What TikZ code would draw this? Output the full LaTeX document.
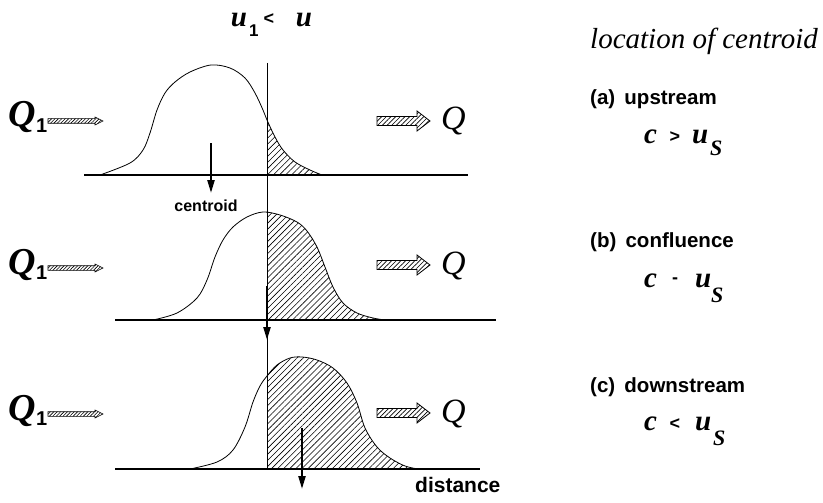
\documentclass[tikz,border=0pt]{standalone}
\usepackage{fontspec}
\setmainfont{Liberation Serif}
\setsansfont{Liberation Sans}
\usetikzlibrary{patterns.meta,arrows.meta}
\tikzset{
  axisline/.style={line width=1.1pt},
  curveline/.style={line width=0.8pt},
  hatchfill/.style={pattern={Lines[angle=45,distance=4.3pt,line width=0.6pt]}},
  cenarrow/.style={line width=2.2pt,-{Triangle[length=13pt,width=7pt]}},
  bigarrow/.pic={\draw[line width=0.8pt,pattern={Lines[angle=45,distance=3.3pt,line width=0.7pt]}]
     (0,-4.5) -- (40,-4.5) -- (40,-10) -- (53,0) -- (40,10) -- (40,4.5) -- (0,4.5) -- cycle;},
  smallarrow/.pic={\draw[line width=0.6pt,pattern={Lines[angle=45,distance=2.4pt,line width=0.6pt]}]
     (0,-2.3) -- (47,-2.3) -- (47,-4) -- (55,0) -- (47,4) -- (47,2.3) -- (0,2.3) -- cycle;},
  qone/.style={font=\fontsize{38}{38}\selectfont\bfseries\itshape,inner sep=0pt,anchor=base west},
  qsub/.style={font=\fontsize{20}{20}\selectfont\sffamily\bfseries,inner sep=0pt,anchor=base west},
  qout/.style={font=\fontsize{34}{34}\selectfont\itshape,inner sep=0pt,anchor=base west},
  mathlet/.style={font=\fontsize{29}{29}\selectfont\bfseries\itshape,inner sep=0pt,anchor=base west},
  mathsub/.style={font=\fontsize{22}{22}\selectfont\bfseries\itshape,inner sep=0pt,anchor=base west},
  relsym/.style={font=\fontsize{18}{18}\selectfont\sffamily\bfseries,inner sep=0pt},
  label/.style={font=\fontsize{20.5}{20.5}\selectfont\sffamily\bfseries,inner sep=0pt,anchor=base west},
  smalllabel/.style={font=\fontsize{16}{16}\selectfont\sffamily\bfseries,inner sep=0pt,anchor=base},
  headline/.style={font=\fontsize{29}{29}\selectfont\itshape,inner sep=0pt,anchor=base west},
}
\begin{document}
\begin{tikzpicture}[x=1pt,y=-1pt]
\useasboundingbox (0,0) rectangle (823,503);

% title
\node[mathlet,anchor=base] (tu1) at (239,27) {u};
\node[qsub,font=\fontsize{17}{17}\selectfont\sffamily\bfseries] (t1) at (249,37) {1};
\node[relsym] (tlt) at (269,19) {<};
\node[mathlet,anchor=base] (tu) at (304,27) {u};

% vertical line
\coordinate (vtop) at (267,63);
\coordinate (vbot) at (267,469);
\draw[curveline] (vtop) -- (vbot);

% ---------- panel 1 ----------
\begin{scope}
\clip (267,0) rectangle (823,503);
\fill[hatchfill] plot[smooth,tension=0.55] coordinates {(100,175) (130,163) (143,150) (150,133) (157,110) (165,93) (175,82) (190,72) (211,65) (230,68) (245,78) (255,93) (263,110) (267,120) (275,137) (283,150) (295,162) (310,170) (322,175)} -- cycle;
\end{scope}
\draw[curveline] plot[smooth,tension=0.55] coordinates {(100,175) (130,163) (143,150) (150,133) (157,110) (165,93) (175,82) (190,72) (211,65) (230,68) (245,78) (255,93) (263,110) (267,120) (275,137) (283,150) (295,162) (310,170) (322,175)};
\coordinate (b1l) at (84,175);
\coordinate (b1r) at (468,175);
\draw[axisline] (b1l) -- (b1r);
\coordinate (c1s) at (211,143);
\coordinate (c1e) at (211,193);
\draw[cenarrow] (c1s) -- (c1e);
\node[smalllabel] (cen) at (206,211) {centroid};

\node[qone] (qa) at (8,127) {Q};
\node[qsub] (qas) at (36,132) {1};
\pic at (48,121) {smallarrow};
\pic at (377,121) {bigarrow};
\node[qout] (qoa) at (441,130) {Q};

% ---------- panel 2 ----------
\begin{scope}
\clip (267,0) rectangle (823,503);
\fill[hatchfill] plot[smooth,tension=0.55] coordinates {(153,320) (177,313) (197,298) (207,280) (215,257) (223,240) (233,227) (247,217) (263,212) (280,215) (297,222) (307,231) (317,247) (325,267) (333,287) (343,303) (357,313) (373,318) (385,320)} -- cycle;
\end{scope}
\draw[curveline] plot[smooth,tension=0.55] coordinates {(153,320) (177,313) (197,298) (207,280) (215,257) (223,240) (233,227) (247,217) (263,212) (280,215) (297,222) (307,231) (317,247) (325,267) (333,287) (343,303) (357,313) (373,318) (385,320)};
\coordinate (b2l) at (115,320);
\coordinate (b2r) at (496,320);
\draw[axisline] (b2l) -- (b2r);
\coordinate (c2s) at (267,286);
\coordinate (c2e) at (267,340);
\draw[cenarrow] (c2s) -- (c2e);

\node[qone] (qb) at (8,274) {Q};
\node[qsub] (qbs) at (36,279) {1};
\pic at (48,268) {smallarrow};
\pic at (377,265) {bigarrow};
\node[qout] (qob) at (441,274) {Q};

% ---------- panel 3 ----------
\begin{scope}
\clip (267,0) rectangle (823,503);
\fill[hatchfill] plot[smooth,tension=0.55] coordinates {(190,469) (217,462) (233,450) (245,427) (253,402) (260,386) (267,376) (277,365) (290,358) (302,357) (317,360) (333,368) (347,383) (357,403) (365,428) (377,447) (390,458) (405,466) (418,469)} -- cycle;
\end{scope}
\draw[curveline] plot[smooth,tension=0.55] coordinates {(190,469) (217,462) (233,450) (245,427) (253,402) (260,386) (267,376) (277,365) (290,358) (302,357) (317,360) (333,368) (347,383) (357,403) (365,428) (377,447) (390,458) (405,466) (418,469)};
\coordinate (b3l) at (115,469);
\coordinate (b3r) at (480,469);
\draw[axisline] (b3l) -- (b3r);
\coordinate (c3s) at (302,428);
\coordinate (c3e) at (302,489);
\draw[cenarrow] (c3s) -- (c3e);
\node[label,font=\fontsize{21}{21}\selectfont\sffamily\bfseries] (dist) at (415,492) {distance};

\node[qone] (qc) at (8,420) {Q};
\node[qsub] (qcs) at (36,425) {1};
\pic at (48,414) {smallarrow};
\pic at (377,413) {bigarrow};
\node[qout] (qoc) at (441,422) {Q};

% ---------- right column ----------
\node[headline] (loc) at (590,49) {location of centroid};

\node[label] (la) at (590,105) {(a)\hspace{0.45em}upstream};
\node[mathlet] (ca) at (644,143) {c};
\node[relsym] (ra) at (675,137) {>};
\node[mathlet] (ua) at (692,143) {u};
\node[mathsub] (sa) at (710,156) {S};

\node[label] (lb) at (590,247) {(b)\hspace{0.45em}confluence};
\node[mathlet] (cb) at (644,287) {c};
\node[relsym] (rb) at (675,281) {-};
\node[mathlet] (ub) at (695,287) {u};
\node[mathsub] (sb) at (711,302) {S};

\node[label] (lc) at (590,392) {(c)\hspace{0.45em}downstream};
\node[mathlet] (cc) at (644,430) {c};
\node[relsym] (rc) at (675,424) {<};
\node[mathlet] (uc) at (695,430) {u};
\node[mathsub] (sc) at (713,445) {S};
\end{tikzpicture}
\end{document}
